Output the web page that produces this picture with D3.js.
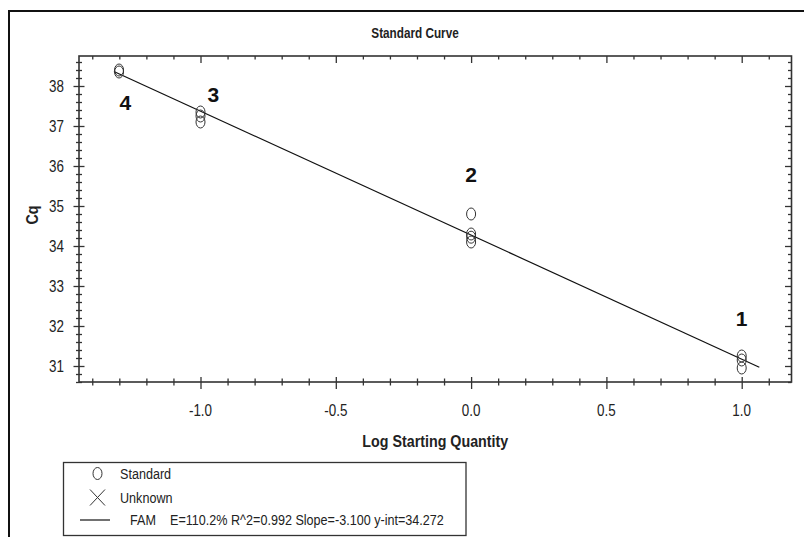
<!DOCTYPE html>
<html>
<head>
<meta charset="utf-8">
<script src="https://cdn.jsdelivr.net/npm/d3@7"></script>
<style>
  html, body { margin: 0; padding: 0; background: #fff; }
  svg { display: block; }
  text { font-family: "Liberation Sans", Arial, sans-serif; }
</style>
</head>
<body>
<svg id="chart" width="804" height="537"></svg>
<script>
// ---- data ----
const title = "Standard Curve";
const xTitle = "Log Starting Quantity";
const yTitle = "Cq";
const standardLogQty = [-1.301, -1.301, -1.0, -1.0, -1.0, 0, 0, 0, 0, 1.0, 1.0, 1.0];
const standardCq     = [38.40, 38.35, 37.35, 37.25, 37.10, 34.80, 34.30, 34.22, 34.10, 31.25, 31.15, 30.95];
const groupLabels    = ["1", "2", "3", "4"];
const groupLabelX    = [1.0, 0.0, -0.953, -1.278];
const groupLabelCq   = [32.2, 35.78, 37.8, 37.6];
const fitSlope = -3.100;
const fitIntercept = 34.272;
const fitRange = [-1.32, 1.065];
const xMajorTicks = [-1.0, -0.5, 0.0, 0.5, 1.0];
const yMajorTicks = [31, 32, 33, 34, 35, 36, 37, 38];
const legendItems = ["Standard", "Unknown", "FAM"];
const fitStats = "E=110.2% R^2=0.992 Slope=-3.100 y-int=34.272";

// ---- layout ----
const svg = d3.select("#chart");
const L = 79, R = 791.5, T = 56, B = 382;
const x = d3.scaleLinear().domain([-1.449, 1.184]).range([L, R]);
const y = d3.scaleLinear().domain([30.6, 38.75]).range([B, T]);
const ink = "#222";
const NARROW = 0.84; // horizontal squeeze to mimic a narrow sans face

function ntext(parent, px, py, str, size, opt = {}) {
  const g = parent.append("g").attr("transform", `translate(${px},${py}) scale(${opt.scale || NARROW},1)`);
  return g.append("text").attr("x", 0).attr("y", 0).attr("dy", "0.36em")
    .attr("text-anchor", opt.anchor || "start")
    .attr("font-size", size).attr("font-weight", opt.bold ? "bold" : "normal")
    .attr("fill", opt.fill || ink).text(str);
}
const fmtX = v => d3.format(".1f")(v).replace("\u2212", "-");

// outer frame (top and left edges)
svg.append("path").attr("d", "M9,537 L9,11 L804,11")
  .attr("fill", "none").attr("stroke", "#111").attr("stroke-width", 2);

// title
ntext(svg, 415, 33, title, 14, { anchor: "middle", bold: true });

// minor tick value sets
const xMinor = d3.range(-14, 12).map(d => d / 10).filter(d => !xMajorTicks.some(m => Math.abs(m - d) < 1e-9));
const yMinor = d3.range(153, 194).map(d => d / 5).filter(d => !yMajorTicks.some(m => Math.abs(m - d) < 1e-9));

function styleAxis(g) {
  g.select(".domain").remove();
  g.selectAll("line").attr("stroke", "#333").attr("stroke-width", 1.3);
}
// bottom (ticks cross the line)
styleAxis(svg.append("g").attr("transform", `translate(0,${B + 7})`)
  .call(d3.axisBottom(x).tickValues(xMajorTicks).tickSize(-12).tickFormat("")));
styleAxis(svg.append("g").attr("transform", `translate(0,${B + 3.5})`)
  .call(d3.axisBottom(x).tickValues(xMinor).tickSize(-7).tickFormat("")));
// left (ticks cross the line)
styleAxis(svg.append("g").attr("transform", `translate(${L - 5.5},0)`)
  .call(d3.axisLeft(y).tickValues(yMajorTicks).tickSize(-11).tickFormat("")));
styleAxis(svg.append("g").attr("transform", `translate(${L - 3},0)`)
  .call(d3.axisLeft(y).tickValues(yMinor).tickSize(-6).tickFormat("")));
// top (inside)
styleAxis(svg.append("g").attr("transform", `translate(0,${T})`)
  .call(d3.axisTop(x).tickValues(xMajorTicks).tickSize(-7).tickFormat("")));
styleAxis(svg.append("g").attr("transform", `translate(0,${T})`)
  .call(d3.axisTop(x).tickValues(xMinor).tickSize(-3.5).tickFormat("")));
// right (inside)
styleAxis(svg.append("g").attr("transform", `translate(${R},0)`)
  .call(d3.axisRight(y).tickValues(yMajorTicks).tickSize(-6.5).tickFormat("")));
styleAxis(svg.append("g").attr("transform", `translate(${R},0)`)
  .call(d3.axisRight(y).tickValues(yMinor).tickSize(-3.5).tickFormat("")));

// tick labels
const gXl = svg.append("g");
xMajorTicks.forEach(v => ntext(gXl, x(v), 410, fmtX(v), 16, { anchor: "middle" }));
const gYl = svg.append("g");
yMajorTicks.forEach(v => ntext(gYl, 64, y(v), d3.format("d")(v), 16, { anchor: "end" }));

// plot border
svg.append("rect").attr("x", L).attr("y", T).attr("width", R - L).attr("height", B - T)
  .attr("fill", "none").attr("stroke", "#333").attr("stroke-width", 1.6);

// regression line
const fitLine = d3.line().x(d => x(d)).y(d => y(fitIntercept + fitSlope * d));
svg.append("path").datum(fitRange).attr("d", fitLine)
  .attr("fill", "none").attr("stroke", "#111").attr("stroke-width", 1.2);

// standard points (hollow ellipses)
svg.append("g").selectAll("ellipse")
  .data(standardLogQty.map((v, i) => [v, standardCq[i]]))
  .join("ellipse")
  .attr("cx", d => x(d[0])).attr("cy", d => y(d[1]))
  .attr("rx", 4.5).attr("ry", 6)
  .attr("fill", "none").attr("stroke", "#333").attr("stroke-width", 1);

// group labels
svg.append("g").selectAll("text")
  .data(groupLabels.map((t, i) => [t, groupLabelX[i], groupLabelCq[i]]))
  .join("text")
  .attr("x", d => x(d[1])).attr("y", d => y(d[2]))
  .attr("dy", "0.36em").attr("text-anchor", "middle")
  .attr("font-size", 21).attr("font-weight", "bold").attr("fill", "#111")
  .text(d => d[0]);

// axis titles
ntext(svg, (L + R) / 2, 441, xTitle, 17, { anchor: "middle", bold: true });
const gy = svg.append("g").attr("transform", "translate(32,215) rotate(-90)");
ntext(gy, 0, 0, yTitle, 17, { anchor: "middle", bold: true });

// legend
const lg = svg.append("g");
lg.append("rect").attr("x", 63.5).attr("y", 462.5).attr("width", 402.5).attr("height", 73)
  .attr("fill", "none").attr("stroke", "#333").attr("stroke-width", 1.3);
const rowY = [473.5, 497.5, 520];
lg.append("ellipse").attr("cx", 97.5).attr("cy", rowY[0]).attr("rx", 4.5).attr("ry", 6)
  .attr("fill", "none").attr("stroke", "#333").attr("stroke-width", 1);
lg.append("path").attr("d", `M90,${rowY[1] - 8} L105,${rowY[1] + 8} M105,${rowY[1] - 8} L90,${rowY[1] + 8}`)
  .attr("stroke", "#333").attr("stroke-width", 1);
lg.append("line").attr("x1", 80).attr("x2", 110).attr("y1", rowY[2]).attr("y2", rowY[2])
  .attr("stroke", "#111").attr("stroke-width", 1.2);
const legX = [120, 120, 130];
legendItems.forEach((t, i) => ntext(lg, legX[i], rowY[i], t, 15));
ntext(lg, 170, rowY[2], fitStats, 15);
</script>
</body>
</html>
